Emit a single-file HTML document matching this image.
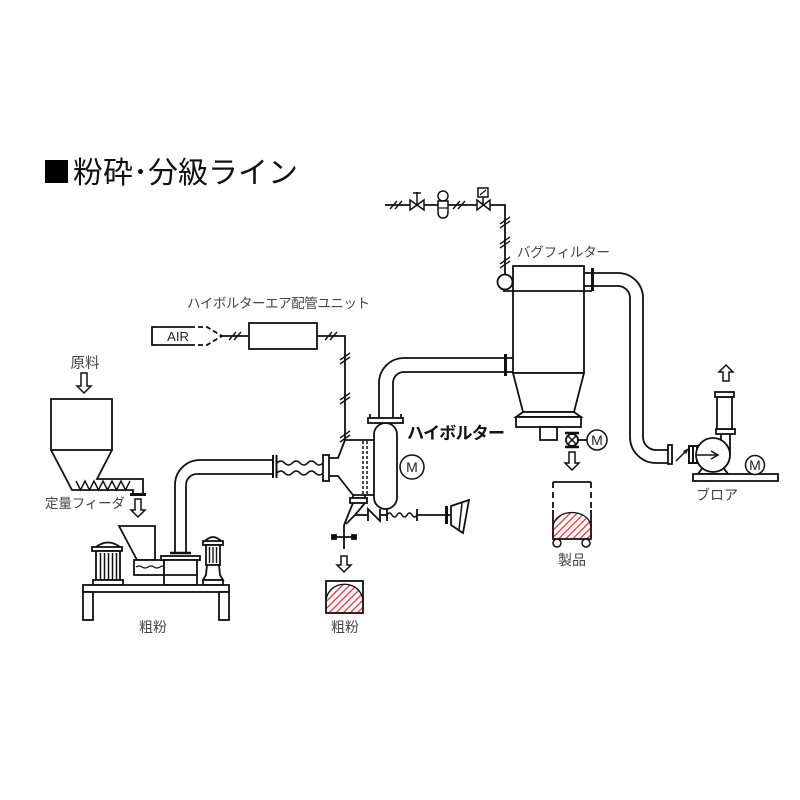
<!DOCTYPE html>
<html><head><meta charset="utf-8">
<style>
html,body{margin:0;padding:0;background:#fff;}
svg{display:block;}
text{font-family:"Liberation Sans","Noto Sans CJK JP",sans-serif;}
</style></head>
<body>
<svg width="800" height="800" viewBox="0 0 800 800" xmlns="http://www.w3.org/2000/svg">
<defs>
<pattern id="h" patternUnits="userSpaceOnUse" width="5" height="5" patternTransform="rotate(45)">
<rect width="5" height="5" fill="#fff"/>
<line x1="1" y1="0" x2="1" y2="5" stroke="#e8333a" stroke-width="1.3"/>
</pattern>
</defs>
<rect width="800" height="800" fill="#fff"/>

<!-- Title -->
<rect x="45" y="160" width="23" height="23" fill="#000"/>
<text x="73" y="183" font-size="30" fill="#111" textLength="225">粉砕･分級ライン</text>

<g fill="none" stroke="#111" stroke-width="1.8" stroke-linejoin="miter">

<!-- ===== Feeder hopper ===== -->
<rect x="51" y="399" width="61" height="51" fill="#fff"/>
<polyline points="51,450 72,490 133,490 133,494"/>
<polyline points="112,450 97,479 143,479 143,494"/>
<line x1="130" y1="494.5" x2="146" y2="494.5" stroke-width="3"/>
<polyline points="76,481 80.5,490 85,481 89.5,490 94,481 98.5,490 103,481 107.5,490 112,481 116.5,490 121,481 125.5,490 130,481" stroke-width="1.5"/>

<!-- ===== Mill ===== -->
<polygon points="119,526 155,526 155,560 137,560" fill="#fff"/>
<rect x="134" y="560" width="30" height="15" fill="#fff"/>
<path d="M136,567 q3,-2 6,0 t6,0 t6,0 t6,0 t6,0" stroke-width="1.3"/>
<path d="M96,547 Q108,538 120,547" fill="#fff"/>
<rect x="92" y="547" width="30" height="4" fill="#fff"/>
<rect x="96" y="551" width="24" height="29" fill="#fff"/>
<line x1="100.5" y1="553" x2="100.5" y2="579" stroke-width="1.5"/>
<line x1="104.5" y1="553" x2="104.5" y2="579" stroke-width="1.5"/>
<line x1="108.5" y1="553" x2="108.5" y2="579" stroke-width="1.5"/>
<line x1="112.5" y1="553" x2="112.5" y2="579" stroke-width="1.5"/>
<line x1="116.5" y1="553" x2="116.5" y2="579" stroke-width="1.5"/>
<rect x="93" y="580" width="30" height="5" fill="#fff"/>
<rect x="161" y="556" width="39" height="4" fill="#fff"/>
<rect x="164" y="560" width="33" height="25" fill="#fff"/>
<line x1="164" y1="575" x2="197" y2="575"/>
<line x1="170" y1="553" x2="191" y2="553" stroke-width="2.5"/>
<path d="M205,541 Q213,533 221,541" fill="#fff"/>
<rect x="203" y="541" width="20" height="4" fill="#fff"/>
<rect x="206" y="545" width="14" height="20" fill="#fff"/>
<line x1="209.5" y1="547" x2="209.5" y2="563" stroke-width="1.4"/>
<line x1="213" y1="547" x2="213" y2="563" stroke-width="1.4"/>
<line x1="216.5" y1="547" x2="216.5" y2="563" stroke-width="1.4"/>
<polygon points="207,565 219,565 220,575 223,580 203,580 206,575" fill="#fff"/>
<rect x="203" y="580" width="20" height="5" fill="#fff"/>
<rect x="83" y="585" width="146" height="7" fill="#fff"/>
<rect x="83" y="592" width="10" height="28" fill="#fff"/>
<rect x="219" y="592" width="10" height="28" fill="#fff"/>

<!-- ===== Mill pipe ===== -->
<path d="M175,553 V485 A25,25 0 0 1 200,460 H273"/>
<path d="M186,553 V485 A11,11 0 0 1 197,474 H273"/>
<line x1="273" y1="455" x2="273" y2="478" stroke-width="2"/>
<line x1="276.5" y1="455" x2="276.5" y2="478" stroke-width="2"/>
<path d="M277,463 Q280.8,459 284.6,463 T292.3,463 T300,463 T307.6,463 T315.3,463 T323,463" stroke-width="1.6"/>
<path d="M277,473 Q280.8,469 284.6,473 T292.3,473 T300,473 T307.6,473 T315.3,473 T323,473" stroke-width="1.6"/>
<rect x="323" y="455" width="6" height="26" fill="#fff"/>

<!-- ===== Hibolter housing ===== -->
<polyline points="329,458 338,458 345,440 374,440"/>
<polyline points="329,476 338,476 353,495 374,495"/>
<line x1="363" y1="441" x2="363" y2="494" stroke-dasharray="3,2" stroke-width="1.5"/>
<line x1="367" y1="441" x2="367" y2="494" stroke-dasharray="3,2" stroke-width="1.5"/>
<line x1="353" y1="495" x2="353" y2="498"/>
<line x1="365" y1="495" x2="365" y2="498"/>
<rect x="350" y="498" width="17" height="5" fill="#fff"/>
<polyline points="353,503 344,525"/>
<polyline points="365,503 355,515 346,524"/>
<line x1="355" y1="515" x2="368" y2="515"/>
<polyline points="368,521 368,509 380,521 380,509"/>
<line x1="380" y1="515" x2="387" y2="515"/>
<line x1="387" y1="509" x2="387" y2="521"/>
<path d="M387,515 Q389.5,511 392,515 T397,515 T402,515 T407,515 T412,515 T417,515" stroke-width="1.5"/>
<line x1="417" y1="509" x2="417" y2="521"/>
<line x1="417" y1="515" x2="446" y2="515"/>
<line x1="446.5" y1="506" x2="446.5" y2="524" stroke-width="3"/>
<line x1="447" y1="515" x2="451" y2="515"/>
<polygon points="451,506 469,500 463,533 451,525" fill="#fff"/>
<line x1="462" y1="503" x2="459" y2="530" stroke-width="1.5"/>
<line x1="344" y1="525" x2="344" y2="549"/>
<line x1="334" y1="537" x2="354" y2="537"/>
<rect x="332" y="535" width="4" height="4" fill="#111"/>
<rect x="352" y="535" width="4" height="4" fill="#111"/>

<rect x="374" y="423" width="23" height="86" rx="11.5" fill="#fff"/>
<rect x="368" y="418" width="35" height="5" fill="#fff"/>
<line x1="370" y1="414" x2="370" y2="418"/>
<line x1="401" y1="414" x2="401" y2="418"/>
<path d="M379,418 V383 A25,25 0 0 1 404,358 H505"/>
<path d="M393,418 V383 A11,11 0 0 1 404,372 H505"/>
<line x1="505.5" y1="354" x2="505.5" y2="376" stroke-width="3"/>
<line x1="506" y1="358" x2="513" y2="358"/>
<line x1="506" y1="372" x2="513" y2="372"/>
<circle cx="412" cy="467" r="12" fill="#fff" stroke-width="1.5"/>

<!-- ===== Air line ===== -->
<path d="M190,327 H152 V345 H190"/>
<path d="M190,327 H207 L222,336 L207,345 H190" stroke-dasharray="5,3"/>
<line x1="222" y1="336" x2="249" y2="336"/>
<rect x="249" y="323" width="68" height="26" fill="#fff"/>
<polyline points="317,336 345,336 345,440"/>

<!-- ===== Bag filter ===== -->
<rect x="513" y="266" width="71" height="107" fill="#fff"/>
<line x1="503" y1="291" x2="592" y2="291"/>
<polygon points="513,373 584,373 574,412 523,412" fill="#fff"/>
<polygon points="523,412 574,412 581,417 516,417" fill="#fff"/>
<rect x="516" y="417" width="65" height="10" fill="#fff"/>
<rect x="540" y="427" width="17" height="13" fill="#fff"/>
<line x1="565" y1="433" x2="579" y2="433" stroke-width="2.5"/>
<line x1="565" y1="447" x2="579" y2="447" stroke-width="2.5"/>
<circle cx="572" cy="440" r="6" fill="#fff"/>
<line x1="568" y1="436" x2="576" y2="444" stroke-width="1.4"/>
<line x1="576" y1="436" x2="568" y2="444" stroke-width="1.4"/>
<line x1="578" y1="440" x2="587" y2="440"/>
<circle cx="597" cy="440" r="10" fill="#fff" stroke-width="1.5"/>

<line x1="584" y1="273" x2="591" y2="273"/>
<line x1="584" y1="286" x2="591" y2="286"/>
<line x1="592.5" y1="268" x2="592.5" y2="291" stroke-width="3"/>
<path d="M594,273 H618 A25,25 0 0 1 643,298 V437 A13,13 0 0 0 656,450 H668"/>
<path d="M594,286 H618 A12,12 0 0 1 630,298 V437 A26,26 0 0 0 656,463 H668"/>
<rect x="668" y="445" width="4" height="19" fill="#fff"/>
<line x1="676" y1="461" x2="686" y2="451" stroke-width="1.5"/>
<polygon points="689,448 683,451 686,454" fill="#111" stroke="none"/>

<!-- ===== Blower ===== -->
<rect x="689" y="446" width="8" height="17" fill="#fff" stroke-width="2"/>
<line x1="693" y1="447" x2="693" y2="462" stroke-width="2"/>
<polygon points="703,467 698,474 728,474 723,467" fill="#fff"/>
<circle cx="713" cy="455" r="17" fill="#fff"/>
<line x1="697" y1="455" x2="716" y2="455" stroke-width="1.5"/>
<polyline points="711,451 718,455 711,459" stroke-width="1.5"/>
<line x1="721" y1="434" x2="721" y2="440"/>
<line x1="730" y1="434" x2="730" y2="455"/>
<rect x="716" y="429" width="19" height="5" fill="#fff"/>
<rect x="717" y="397" width="15" height="32" fill="#fff"/>
<rect x="715" y="392" width="19" height="5" fill="#fff"/>
<rect x="693" y="474" width="85" height="7" fill="#fff"/>
<circle cx="755" cy="465" r="9.5" fill="#fff" stroke-width="1.5"/>

<!-- ===== Top compressed-air line ===== -->
<polyline points="385,205 505,205 505,275"/>
<circle cx="505" cy="282" r="7.5" fill="#fff"/>
<polygon points="410,200 424,210 424,200 410,210" fill="#fff" stroke-width="1.5"/>
<line x1="417" y1="205" x2="417" y2="192" stroke-width="1.5"/>
<line x1="413" y1="193" x2="421" y2="193" stroke-width="1.5"/>
<circle cx="443" cy="196" r="5" fill="#fff" stroke-width="1.5"/>
<path d="M438,201 H448 V212 Q448,218 443,218 Q438,218 438,212 Z" fill="#fff" stroke-width="1.5"/>
<line x1="438" y1="208" x2="448" y2="208" stroke-width="1.2"/>
<polygon points="477,200 490,210 490,200 477,210" fill="#fff" stroke-width="1.5"/>
<line x1="483" y1="205" x2="483" y2="197" stroke-width="1.5"/>
<rect x="478" y="188" width="10" height="9" fill="#fff" stroke-width="1.5"/>
<line x1="480" y1="195" x2="486" y2="190" stroke-width="1.2"/>
</g>

<!-- slash marks -->
<g stroke="#111" stroke-width="1.4" fill="none">
<line x1="390" y1="209" x2="397" y2="201"/><line x1="395" y1="209" x2="402" y2="201"/>
<line x1="453" y1="209" x2="460" y2="201"/><line x1="458" y1="209" x2="465" y2="201"/>
<line x1="500" y1="224" x2="510" y2="217"/><line x1="500" y1="228" x2="510" y2="221"/>
<line x1="500" y1="244" x2="510" y2="237"/><line x1="500" y1="248" x2="510" y2="241"/>
<line x1="500" y1="264" x2="510" y2="257"/><line x1="500" y1="268" x2="510" y2="261"/>
<line x1="229" y1="340" x2="236" y2="332"/><line x1="234" y1="340" x2="241" y2="332"/>
<line x1="325" y1="340" x2="332" y2="332"/><line x1="330" y1="340" x2="337" y2="332"/>
<line x1="340" y1="360" x2="350" y2="353"/><line x1="340" y1="364" x2="350" y2="357"/>
<line x1="340" y1="400" x2="350" y2="393"/><line x1="340" y1="404" x2="350" y2="397"/>
<line x1="340" y1="438" x2="350" y2="431"/><line x1="340" y1="442" x2="350" y2="435"/>
</g>

<!-- hollow arrows -->
<g fill="#fff" stroke="#111" stroke-width="1.5" stroke-linejoin="miter">
<polygon points="81,373 87,373 87,386 91,386 84,393 77,386 81,386"/>
<polygon points="135,499 141,499 141,510 145,510 138,517 131,510 135,510"/>
<polygon points="341,556 347,556 347,565 351,565 344,572 337,565 341,565"/>
<polygon points="569,452 575,452 575,463 579,463 572,470 565,463 569,463"/>
<polygon points="723,381 729,381 729,372 733,372 726,365 719,372 723,372"/>
</g>

<!-- containers -->
<g stroke="#111" stroke-width="1.8" fill="none">
<path d="M326,613 V600 C329,579 360,579 363,600 V613 Z" fill="url(#h)" stroke="none"/>
<path d="M326,600 C329,579 360,579 363,600" stroke-width="1.3"/>
<rect x="326" y="581" width="37" height="32"/>
<path d="M553,539 V526 C556,508 588,508 591,526 V539 Z" fill="url(#h)" stroke="none"/>
<path d="M553,526 C556,508 588,508 591,526" stroke-width="1.3"/>
<line x1="553" y1="482" x2="591" y2="482"/>
<line x1="553" y1="482" x2="553" y2="512" stroke-dasharray="6,4"/>
<line x1="591" y1="482" x2="591" y2="512" stroke-dasharray="6,4"/>
<polyline points="553,510 553,539 591,539 591,510"/>
<circle cx="557" cy="543" r="4" fill="#fff" stroke-width="1.5"/>
<circle cx="586" cy="543" r="4" fill="#fff" stroke-width="1.5"/>
</g>

<!-- Labels -->
<g fill="#444" font-size="13.5">
<text x="85" y="368" text-anchor="middle" font-size="14.5">原料</text>
<text x="45" y="508" textLength="80">定量フィーダ</text>
<text x="153" y="632" text-anchor="middle" font-size="14">粗粉</text>
<text x="345" y="632" text-anchor="middle" font-size="14">粗粉</text>
<text x="187" y="308" textLength="183">ハイボルターエア配管ユニット</text>
<text x="517" y="257" textLength="93">バグフィルター</text>
<text x="572" y="565" text-anchor="middle" font-size="14">製品</text>
<text x="717" y="500" text-anchor="middle" font-size="14">ブロア</text>
<text x="178" y="341" text-anchor="middle" font-size="13" fill="#222">AIR</text>
<text x="412" y="472" text-anchor="middle" font-size="14" fill="#222">M</text>
<text x="597" y="445" text-anchor="middle" font-size="14" fill="#222">M</text>
<text x="755" y="470" text-anchor="middle" font-size="14" fill="#222">M</text>
</g>
<text x="407" y="439" font-size="17" font-weight="bold" fill="#111" textLength="98">ハイボルター</text>
</svg>
</body></html>
